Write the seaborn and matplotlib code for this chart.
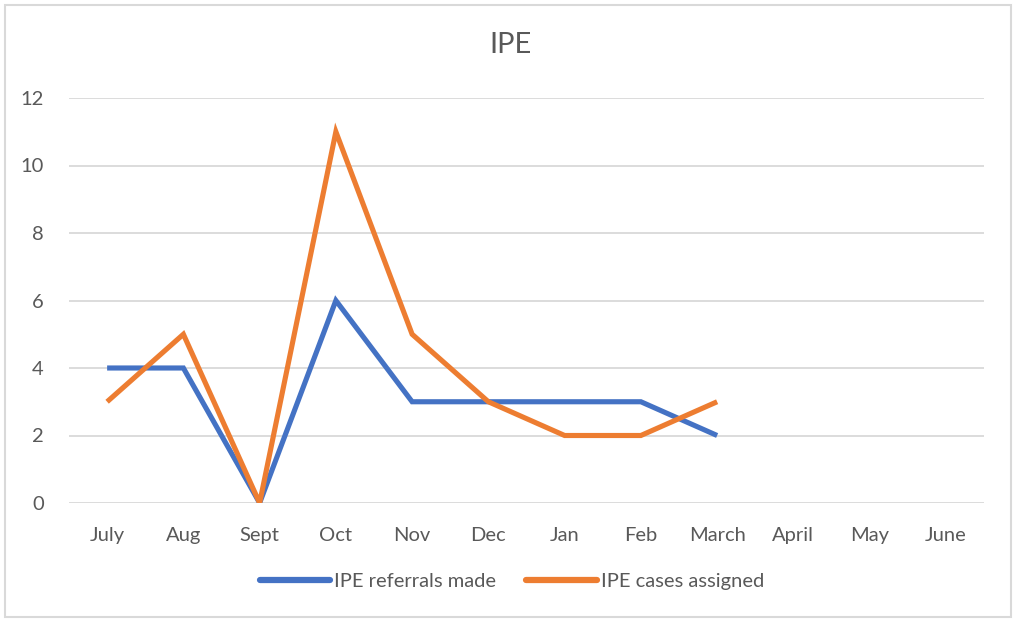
"""IPE referrals vs cases assigned, monthly line chart."""
import matplotlib
matplotlib.use("Agg")
import matplotlib.pyplot as plt
import pandas as pd
import seaborn as sns
from matplotlib.patches import Rectangle

months = ["July", "Aug", "Sept", "Oct", "Nov", "Dec", "Jan", "Feb", "March",
          "April", "May", "June"]
referrals_made = [4, 4, 0, 6, 3, 3, 3, 3, 2]
cases_assigned = [3, 5, 0, 11, 5, 3, 2, 2, 3]
y_ticks = [0, 2, 4, 6, 8, 10, 12]

BLUE = "#4472C4"
ORANGE = "#ED7D31"
TEXT = "#595959"
GRID = "#D9D9D9"

sns.set_theme(style="white")
plt.rcParams["font.family"] = ["Lato", "DejaVu Sans"]

df = pd.DataFrame({
    "month": months[:len(referrals_made)] * 2,
    "x": list(range(len(referrals_made))) * 2,
    "value": referrals_made + cases_assigned,
    "series": ["IPE referrals made"] * len(referrals_made)
              + ["IPE cases assigned"] * len(cases_assigned),
})

fig = plt.figure(figsize=(10.14, 6.2), dpi=100)
ax = fig.add_axes([69 / 1014, 1 - 503 / 620, (984 - 69) / 1014, (503 - 98) / 620])

sns.lineplot(data=df, x="x", y="value", hue="series",
             palette={"IPE referrals made": BLUE, "IPE cases assigned": ORANGE},
             linewidth=3.7, ax=ax, legend=False, sort=False)
for line in ax.lines:
    line.set_solid_joinstyle("miter")
    line.set_solid_capstyle("butt")

ax.set_xlim(-0.5, len(months) - 0.5)
ax.set_ylim(0, 12)
ax.set_xticks(range(len(months)))
ax.set_xticklabels(months)
ax.set_yticks(y_ticks)
ax.set_xlabel("")
ax.set_ylabel("")
ax.tick_params(axis="both", length=0, labelsize=14.5, labelcolor=TEXT)
ax.tick_params(axis="x", pad=17)
ax.tick_params(axis="y", pad=18)
ax.grid(axis="y", color=GRID, linewidth=1.3)
ax.set_axisbelow(True)
for side in ["top", "right", "left", "bottom"]:
    ax.spines[side].set_visible(False)

fig.text(510 / 1014, 1 - 45 / 620, "IPE", ha="center", va="center",
         fontsize=21, color=TEXT)

handles = [plt.Line2D([], [], color=BLUE, linewidth=4.5),
           plt.Line2D([], [], color=ORANGE, linewidth=4.5)]
fig.legend(handles, ["IPE referrals made", "IPE cases assigned"],
           loc="center", bbox_to_anchor=(512 / 1014, 1 - 581 / 620), ncol=2,
           frameon=False, fontsize=14.5, labelcolor=TEXT, handlelength=3.5,
           handletextpad=0.2, columnspacing=1.5)

fig.patches.append(Rectangle((5 / 1014, 3 / 620), 1006 / 1014, 612 / 620,
                             transform=fig.transFigure, fill=False,
                             edgecolor=GRID, linewidth=1.5))

fig.savefig("out.png", dpi=100, facecolor="white")
